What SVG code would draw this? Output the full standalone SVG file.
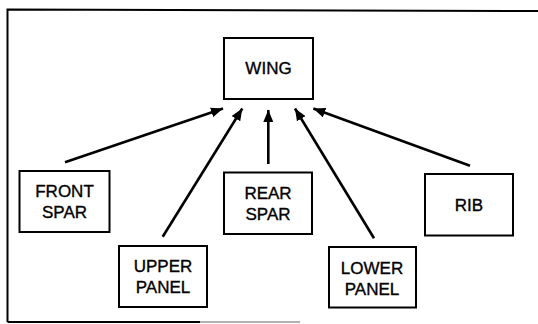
<svg xmlns="http://www.w3.org/2000/svg" width="538" height="324" viewBox="0 0 538 324">
  <style>
    .box { fill: #ffffff; stroke: #000000; stroke-width: 2; }
    .lbl { font-family: "Liberation Sans", Arial, sans-serif; font-size: 17px; fill: #000000; stroke: #000000; stroke-width: 0.35; text-anchor: middle; }
    .conn { stroke: #000000; stroke-width: 2.6; fill: none; marker-end: url(#arrow); }
    .frame { stroke: #000000; stroke-width: 2; fill: none; }
  </style>
  <defs>
    <marker id="arrow" markerUnits="userSpaceOnUse" markerWidth="12" markerHeight="10" viewBox="0 0 12 10" refX="12" refY="5" orient="auto">
      <path d="M0,0 L12,5 L0,10 Z" fill="#000000"/>
    </marker>
  </defs>
  <rect width="538" height="324" fill="#ffffff"/>
  <g id="frame">
    <path class="frame" d="M7.5,322 L7.5,9.5 L538,11"/>
    <path class="frame" d="M7.5,322 L200,322"/>
    <path d="M200,322 L300,322" stroke="#9a9a9a" stroke-width="1.5"/>
  </g>
  <g id="connectors">
    <line class="conn" x1="65" y1="162.3" x2="223" y2="108.5"/>
    <line class="conn" x1="162.7" y1="236.7" x2="242.3" y2="108.5"/>
    <line class="conn" x1="268.3" y1="164" x2="268.3" y2="110"/>
    <line class="conn" x1="374" y1="238.3" x2="295" y2="108.5"/>
    <line class="conn" x1="470" y1="165.7" x2="313.3" y2="108.5"/>
  </g>
  <g id="wing">
    <rect class="box" x="224" y="38" width="89" height="61"/>
    <text class="lbl" x="268.5" y="74">WING</text>
  </g>
  <g id="front-spar">
    <rect class="box" x="19.5" y="171" width="90" height="61"/>
    <text class="lbl" x="64.5" y="197">FRONT</text>
    <text class="lbl" x="64.5" y="218">SPAR</text>
  </g>
  <g id="upper-panel">
    <rect class="box" x="119" y="246" width="88" height="61"/>
    <text class="lbl" x="163" y="272">UPPER</text>
    <text class="lbl" x="163" y="293">PANEL</text>
  </g>
  <g id="rear-spar">
    <rect class="box" x="224" y="172.5" width="88" height="61.5"/>
    <text class="lbl" x="268" y="199">REAR</text>
    <text class="lbl" x="268" y="220">SPAR</text>
  </g>
  <g id="lower-panel">
    <rect class="box" x="329" y="247" width="87" height="60.5"/>
    <text class="lbl" x="372" y="273.5">LOWER</text>
    <text class="lbl" x="372" y="294.5">PANEL</text>
  </g>
  <g id="rib">
    <rect class="box" x="425" y="174" width="88" height="61.5"/>
    <text class="lbl" x="469" y="211">RIB</text>
  </g>
</svg>
